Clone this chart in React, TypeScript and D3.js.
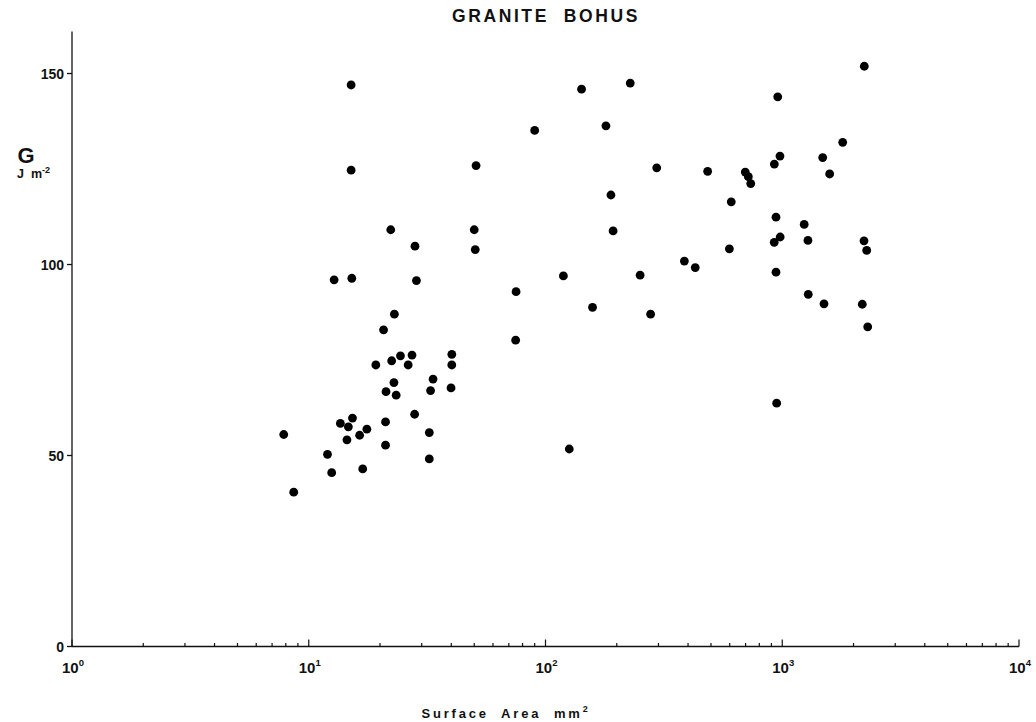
import React from "react";
import * as d3 from "d3";

const title = "GRANITE  BOHUS";
const xTitle = "Surface  Area  mm";
const yTitle = "G";
const yUnit = "J  m";

// Surface area (mm^2)
const areaMm2 = [
  7.84, 8.64, 12.0, 12.5, 13.6, 15.3, 14.7, 17.6, 16.4, 14.5, 16.9,
  23.0, 20.7, 19.2, 22.4, 24.4, 27.3, 26.3, 40.2, 40.2,
  33.5, 32.7, 39.9, 22.9, 21.2, 23.4, 28.0, 21.1, 21.1, 32.3, 32.3,
  15.1, 15.1, 50.9, 22.2, 50.0, 28.1, 50.5, 12.8, 15.2, 28.5,
  142, 228, 90, 180, 295, 484, 189, 609, 193, 598, 386, 429, 119, 251, 75.1, 158, 278, 74.8, 126,
  2221, 957, 1800, 978, 926, 1482, 1586, 698, 719, 736, 941, 1238, 980, 925, 1284, 2215, 2274, 941, 1288, 1501, 2178, 2296, 947,
];

// G (J m^-2)
const energyJm2 = [
  55.5, 40.4, 50.3, 45.5, 58.4, 59.8, 57.5, 56.9, 55.3, 54.1, 46.5,
  87.0, 82.9, 73.7, 74.8, 76.1, 76.3, 73.7, 76.5, 73.7,
  70.0, 67.0, 67.7, 69.1, 66.7, 65.8, 60.8, 58.8, 52.7, 56.0, 49.1,
  147.0, 124.7, 125.9, 109.1, 109.1, 104.8, 103.9, 96.0, 96.4, 95.8,
  145.9, 147.5, 135.1, 136.3, 125.3, 124.4, 118.2, 116.4, 108.8, 104.1, 100.9, 99.2, 97.0, 97.2, 92.9, 88.8, 87.0, 80.2, 51.7,
  151.9, 143.9, 132.0, 128.4, 126.3, 128.0, 123.7, 124.2, 123.0, 121.2, 112.4, 110.5, 107.2, 105.8, 106.3, 106.2, 103.7, 98.0, 92.2, 89.7, 89.6, 83.7, 63.7,
];

const yTickValues = [0, 50, 100, 150];
const xDomain = [1, 10000];
const yDomain = [0, 161];

const W = 1036;
const H = 722;
const FONT = "'Liberation Sans', Arial, Helvetica, sans-serif";
const INK = "#111";
const PRE = { whiteSpace: "pre" as const };

export default function App() {
  const x = d3.scaleLog().domain(xDomain).range([72, 1019]);
  const y = d3.scaleLinear().domain(yDomain).range([646.5, 31.5]);

  const xTicks = x.ticks();
  const isMajor = (v: number) => Math.abs(Math.log10(v) - Math.round(Math.log10(v))) < 1e-9;
  const points = areaMm2.map((a, i) => ({ a, g: energyJm2[i] }));

  return (
    <svg
      width={W}
      height={H}
      style={{ position: "fixed", left: 0, top: 0, background: "#fff" }}
      fontFamily={FONT}
    >
      <rect width={W} height={H} fill="#fff" />
      {/* title */}
      <text
        x={546}
        y={22}
        textAnchor="middle"
        fontSize={17.5}
        fontWeight="bold"
        letterSpacing={2.6}
        fill={INK}
        style={PRE}
      >
        {title}
      </text>

      {/* y axis */}
      <line x1={x(1)} x2={x(1)} y1={y(0)} y2={y(yDomain[1])} stroke={INK} strokeWidth={1.3} />
      {yTickValues.map((v) => (
        <g key={v}>
          <line x1={x(1) - 5} x2={x(1)} y1={y(v)} y2={y(v)} stroke={INK} strokeWidth={1.3} />
          <text
            x={x(1) - 8}
            y={y(v)}
            dy="0.36em"
            textAnchor="end"
            fontSize={14}
            fontWeight="bold"
            fill={INK}
          >
            {v}
          </text>
        </g>
      ))}
      <text x={26} y={163} textAnchor="middle" fontSize={22} fontWeight="bold" fill={INK}>
        {yTitle}
      </text>
      <text x={17} y={178} fontSize={12.5} fontWeight="bold" fill={INK} style={PRE}>
        {yUnit}
        <tspan dy={-5} fontSize={9}>-2</tspan>
      </text>

      {/* x axis */}
      <line x1={x(xDomain[0])} x2={x(xDomain[1])} y1={y(0)} y2={y(0)} stroke={INK} strokeWidth={1.3} />
      {xTicks.map((v, i) => (
        <line
          key={i}
          x1={x(v)}
          x2={x(v)}
          y1={y(0)}
          y2={y(0) - (isMajor(v) ? 7 : 3.5)}
          stroke={INK}
          strokeWidth={1.2}
        />
      ))}
      {xTicks.filter(isMajor).map((v) => (
        <text key={v} x={x(v) + 1} y={673} textAnchor="middle" fontSize={15} fontWeight="bold" fill={INK}>
          10
          <tspan dy={-7} fontSize={9.5}>{Math.round(Math.log10(v))}</tspan>
        </text>
      ))}
      <text
        x={506}
        y={718}
        textAnchor="middle"
        fontSize={13}
        fontWeight="bold"
        letterSpacing={2.8}
        fill={INK}
        style={PRE}
      >
        {xTitle}
        <tspan dy={-6} fontSize={9}>2</tspan>
      </text>

      {/* points */}
      {points.map((p, i) => (
        <circle key={i} cx={x(p.a)} cy={y(p.g)} r={4.4} fill="#000" />
      ))}
    </svg>
  );
}
